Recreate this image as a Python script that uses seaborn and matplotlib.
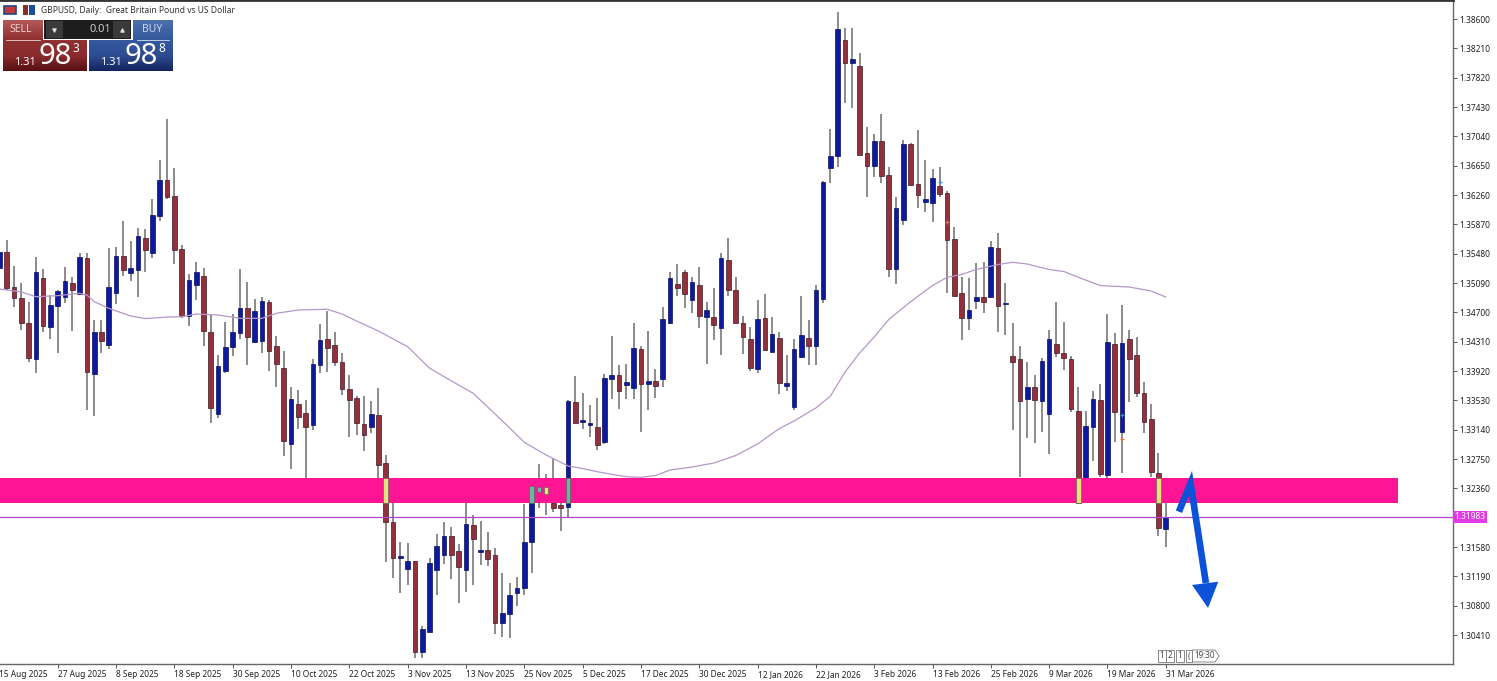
import numpy as np
import pandas as pd
import matplotlib
matplotlib.use("Agg")
import matplotlib.pyplot as plt
from matplotlib.colors import LinearSegmentedColormap
from matplotlib.patches import Polygon, Rectangle
import seaborn as sns

highs = [
    1.35552, 1.35663, 1.35321, 1.35086, 1.34843, 1.35441, 1.35273, 1.34931, 1.34998, 1.35308,
    1.35175, 1.35494, 1.35485, 1.34599, 1.34599, 1.35552, 1.35574, 1.35915, 1.35649, 1.35827,
    1.35804, 1.36203, 1.36722, 1.37271, 1.36615, 1.35592, 1.35211, 1.35366, 1.35286, 1.34665,
    1.34134, 1.34568, 1.34679, 1.35273, 1.35104, 1.34874, 1.34909, 1.34865, 1.34386, 1.34191,
    1.33712, 1.33668, 1.33534, 1.34075, 1.34545, 1.34722, 1.34434, 1.34155, 1.33867, 1.33588,
    1.33588, 1.33526, 1.33698, 1.32803, 1.32161, 1.31651, 1.31629, 1.31398, 1.30530, 1.31429,
    1.31753, 1.31908, 1.31850, 1.31620, 1.32161, 1.32001, 1.31930, 1.31775, 1.31562, 1.31239,
    1.31097, 1.31177, 1.32152, 1.32400, 1.32679, 1.32551, 1.32750, 1.32161, 1.33540, 1.33854,
    1.33623, 1.33468, 1.33566, 1.33880, 1.34390, 1.34000, 1.34013, 1.34554, 1.34257, 1.34457,
    1.33942, 1.34767, 1.35232, 1.35343, 1.35263, 1.35166, 1.35308, 1.34842, 1.35019, 1.35485,
    1.35684, 1.35175, 1.34652, 1.34510, 1.34864, 1.34944, 1.34643, 1.34443, 1.34133, 1.34350,
    1.34922, 1.34598, 1.35064, 1.36446, 1.37133, 1.38698, 1.38476, 1.38476, 1.38153, 1.37160,
    1.37071, 1.37337, 1.36637, 1.36238, 1.36992, 1.36956, 1.37125, 1.36726, 1.36606, 1.36628,
    1.36313, 1.35830, 1.35174, 1.35152, 1.35352, 1.35369, 1.35653, 1.35751, 1.35095, 1.34554,
    1.34253, 1.34035, 1.33867, 1.34089, 1.34465, 1.34838, 1.34572, 1.34120, 1.33703, 1.33393,
    1.33650, 1.33747, 1.34678, 1.34425, 1.34798, 1.34465, 1.34368, 1.33778, 1.33482, 1.32826,
    1.32241,
]
lows = [
    1.35264, 1.34998, 1.34767, 1.34466, 1.34045, 1.33899, 1.34444, 1.34342, 1.34156, 1.34829,
    1.34453, 1.34940, 1.33402, 1.33327, 1.34165, 1.34209, 1.34812, 1.35184, 1.35117, 1.34900,
    1.35242, 1.35428, 1.35920, 1.36203, 1.35339, 1.34621, 1.34524, 1.34865, 1.34253, 1.33234,
    1.33291, 1.33899, 1.34125, 1.34342, 1.34001, 1.34289, 1.34165, 1.33921, 1.33704, 1.32791,
    1.32613, 1.33145, 1.32493, 1.33136, 1.33898, 1.33911, 1.33987, 1.33601, 1.33047, 1.33069,
    1.32861, 1.33091, 1.32493, 1.31385, 1.31163, 1.30964, 1.31075, 1.30100, 1.30100, 1.30454,
    1.30942, 1.31354, 1.31159, 1.30840, 1.30986, 1.31075, 1.31341, 1.31327, 1.30419, 1.30379,
    1.30374, 1.30800, 1.30942, 1.31230, 1.32094, 1.32005, 1.32045, 1.31788, 1.31974, 1.33224,
    1.33154, 1.33047, 1.32870, 1.32950, 1.33544, 1.33411, 1.33544, 1.33544, 1.33109, 1.33402,
    1.33557, 1.33703, 1.34545, 1.34918, 1.34762, 1.34687, 1.34488, 1.34009, 1.34332, 1.34137,
    1.34918, 1.34554, 1.34146, 1.33920, 1.33898, 1.34191, 1.34173, 1.33615, 1.33650, 1.33402,
    1.34089, 1.34000, 1.34000, 1.34820, 1.36424, 1.36628, 1.37488, 1.37417, 1.36788, 1.36229,
    1.36495, 1.36415, 1.35166, 1.35077, 1.35861, 1.36380, 1.36083, 1.36034, 1.35897, 1.36238,
    1.34953, 1.34917, 1.34333, 1.34466, 1.34740, 1.34696, 1.34900, 1.34443, 1.34394, 1.33136,
    1.32515, 1.33025, 1.32967, 1.33109, 1.32817, 1.34102, 1.33934, 1.33375, 1.32152, 1.32170,
    1.32724, 1.32506, 1.32480, 1.32976, 1.32560, 1.33508, 1.33570, 1.33100, 1.32506, 1.31726,
    1.31585,
]
opens = [
    1.35286, 1.35507, 1.35033, 1.34887, 1.34563, 1.34076, 1.35153, 1.34501, 1.34785, 1.34909,
    1.35095, 1.34940, 1.35419, 1.33881, 1.34439, 1.34266, 1.34962, 1.35445, 1.35228, 1.35264,
    1.35685, 1.35494, 1.35986, 1.36460, 1.36252, 1.35538, 1.34652, 1.35060, 1.35184, 1.34439,
    1.33349, 1.33925, 1.34244, 1.34430, 1.34754, 1.34306, 1.34320, 1.34843, 1.34253, 1.33956,
    1.32950, 1.33482, 1.33366, 1.33202, 1.34004, 1.34341, 1.34266, 1.34040, 1.33685, 1.33561,
    1.33215, 1.33180, 1.33339, 1.32692, 1.31917, 1.31438, 1.31283, 1.31398, 1.30188, 1.30454,
    1.31274, 1.31474, 1.31726, 1.31522, 1.31274, 1.31872, 1.31513, 1.31540, 1.31474, 1.30565,
    1.30689, 1.30973, 1.31030, 1.31651, 1.32311, 1.32373, 1.32169, 1.32138, 1.32107, 1.33504,
    1.33242, 1.33207, 1.33180, 1.32972, 1.33810, 1.33867, 1.33739, 1.33690, 1.34208, 1.33752,
    1.33783, 1.33810, 1.34563, 1.35081, 1.35237, 1.34864, 1.35068, 1.34643, 1.34643, 1.34492,
    1.35396, 1.34997, 1.34563, 1.34341, 1.33942, 1.34629, 1.34173, 1.34355, 1.33725, 1.33437,
    1.34111, 1.34355, 1.34257, 1.34878, 1.36619, 1.36779, 1.38321, 1.38020, 1.37975, 1.36823,
    1.36650, 1.36978, 1.36531, 1.35276, 1.35928, 1.36943, 1.36411, 1.36167, 1.36158, 1.36384,
    1.36287, 1.35671, 1.34957, 1.34620, 1.34851, 1.34909, 1.34900, 1.35551, 1.34816, 1.34120,
    1.34075, 1.33548, 1.33703, 1.33521, 1.33349, 1.34279, 1.34160, 1.34075, 1.33393, 1.32502,
    1.33171, 1.33530, 1.32537, 1.34279, 1.33109, 1.34341, 1.34137, 1.33628, 1.33278, 1.32560,
    1.31815,
]
closes = [
    1.35507, 1.35020, 1.34887, 1.34563, 1.34089, 1.35237, 1.34519, 1.34803, 1.34980, 1.35117,
    1.34993, 1.35432, 1.33907, 1.34439, 1.34315, 1.35033, 1.35445, 1.35264, 1.35286, 1.35720,
    1.35525, 1.35999, 1.36460, 1.36230, 1.35530, 1.34652, 1.35126, 1.35237, 1.34457, 1.33424,
    1.33992, 1.34235, 1.34439, 1.34754, 1.34377, 1.34719, 1.34852, 1.34187, 1.34014, 1.32990,
    1.33544, 1.33314, 1.33171, 1.34013, 1.34332, 1.34230, 1.34040, 1.33676, 1.33534, 1.33224,
    1.33069, 1.33348, 1.32670, 1.31917, 1.31438, 1.31460, 1.31398, 1.30188, 1.30494, 1.31363,
    1.31593, 1.31726, 1.31474, 1.31318, 1.31881, 1.31682, 1.31540, 1.31425, 1.30565, 1.30707,
    1.30942, 1.31039, 1.31651, 1.32391, 1.32373, 1.32285, 1.32098, 1.32094, 1.33526, 1.33224,
    1.33273, 1.33233, 1.32936, 1.33823, 1.33867, 1.33654, 1.33770, 1.34222, 1.33752, 1.33792,
    1.33725, 1.34607, 1.35161, 1.35019, 1.34940, 1.35099, 1.34656, 1.34727, 1.34532, 1.35418,
    1.34997, 1.34563, 1.34377, 1.33965, 1.34607, 1.34200, 1.34412, 1.33756, 1.33761, 1.34208,
    1.34399, 1.34257, 1.34997, 1.36429, 1.36783, 1.38467, 1.38020, 1.38064, 1.36788, 1.36650,
    1.36978, 1.36517, 1.35276, 1.36083, 1.36943, 1.36389, 1.36256, 1.36207, 1.36482, 1.36274,
    1.35662, 1.34917, 1.34620, 1.34731, 1.34909, 1.34842, 1.35573, 1.34789, 1.34824, 1.34035,
    1.33521, 1.33712, 1.33535, 1.34053, 1.34341, 1.34160, 1.34098, 1.33419, 1.32161, 1.33193,
    1.33544, 1.32551, 1.34306, 1.33375, 1.34293, 1.34075, 1.33623, 1.33247, 1.32573, 1.31837,
    1.31983,
]

# moving average at these bars
ma_bars = [0, 3, 5, 8, 11, 12, 13, 15, 18, 20, 23, 25, 27, 30, 33, 36, 38, 41, 45, 47, 49, 52,
           56, 59, 62, 65, 68, 70, 72, 75, 78, 80, 82, 84, 86, 88, 90, 92, 95, 98, 101, 104,
           107, 109, 112, 114, 116, 118, 120, 122, 125, 128, 130, 132, 134, 137, 139, 141,
           144, 146, 149, 151, 155, 158, 160]
ma_values = [1.35011, 1.34971, 1.34908, 1.34922, 1.34954, 1.34931, 1.34842, 1.34754, 1.34652,
             1.34618, 1.34638, 1.34642, 1.34678, 1.34665, 1.34621, 1.34621, 1.34688, 1.34732,
             1.34741, 1.34678, 1.34585, 1.34452, 1.34244, 1.33960, 1.33788, 1.33624, 1.33349,
             1.33163, 1.32973, 1.32804, 1.32658, 1.32624, 1.32582, 1.32547, 1.32515, 1.32507,
             1.32531, 1.32604, 1.32644, 1.32697, 1.32797, 1.32950, 1.33156, 1.33256, 1.33429,
             1.33588, 1.33907, 1.34160, 1.34373, 1.34605, 1.34842, 1.35057, 1.35166, 1.35204,
             1.35270, 1.35336, 1.35366, 1.35343, 1.35270, 1.35243, 1.35130, 1.35057, 1.35037,
             1.34984, 1.34904]

date_ticks = ["15 Aug 2025", "27 Aug 2025", "8 Sep 2025", "18 Sep 2025", "30 Sep 2025",
              "10 Oct 2025", "22 Oct 2025", "3 Nov 2025", "13 Nov 2025", "25 Nov 2025",
              "5 Dec 2025", "17 Dec 2025", "30 Dec 2025", "12 Jan 2026", "22 Jan 2026",
              "3 Feb 2026", "13 Feb 2026", "25 Feb 2026", "9 Mar 2026", "19 Mar 2026",
              "31 Mar 2026"]
price_ticks = [1.38600, 1.38210, 1.37820, 1.37430, 1.37040, 1.36650, 1.36260, 1.35870, 1.35480,
               1.35090, 1.34700, 1.34310, 1.33920, 1.33530, 1.33140, 1.32750, 1.32360, 1.31970,
               1.31580, 1.31190, 1.30800, 1.30410]

last_price = 1.31983
zone_top = 1.32502
zone_bottom = 1.32162
zone_end_bar = 191.9
highlight_bars = [53, 73, 74, 75, 78, 148, 159]

marker_up_bars = [129, 154]
marker_up_prices = [1.36433, 1.33336]
marker_down_bars = [130, 154]
marker_down_prices = [1.35906, 1.33017]

arrow_bars = [161.8, 163.4, 165.5]
arrow_prices = [1.32050, 1.32428, 1.31102]
head_bars = [163.6, 167.2, 165.8]
head_prices = [1.31076, 1.31119, 1.30770]

BLUE = "#0d1a9e"
RED = "#93303c"

df = pd.DataFrame({"open": opens, "high": highs, "low": lows, "close": closes})
df["bar"] = df.index
df["up"] = df["close"] >= df["open"]
df["top"] = df[["open", "close"]].max(axis=1)
df["bottom"] = df[["open", "close"]].min(axis=1)

sns.set_theme(style="white")
plt.rcParams["font.family"] = ["Noto Sans", "DejaVu Sans"]

W, H = 1497, 681
fig = plt.figure(figsize=(W / 100, H / 100), dpi=100, facecolor="white")
ax = fig.add_axes([-0.6 / W, (H - 664) / H, 1453.6 / W, 664 / H])

# candles
ax.vlines(df["bar"], df["low"], df["high"], color="#7d7d7d", lw=1.25, zorder=2)
for is_up, part in df.groupby("up"):
    ax.bar(part["bar"], part["top"] - part["bottom"], bottom=part["bottom"], width=0.64,
           color=BLUE if is_up else RED, edgecolor="#0a0e60" if is_up else "#3d1a26",
           linewidth=0.5, zorder=2.5)

# support zone sits over the candles, body parts inside it show in the xor colours
ax.add_patch(Rectangle((0, zone_bottom), zone_end_bar, zone_top - zone_bottom,
                       facecolor="#ff1493", edgecolor="none", zorder=3))
hl = df.loc[highlight_bars]
hl_top = hl["top"].clip(upper=zone_top)
hl_bottom = hl["bottom"].clip(lower=zone_bottom)
ax.bar(hl["bar"], hl_top - hl_bottom, bottom=hl_bottom, width=0.64,
       color=["#62bb9c" if u else "#e6e27c" for u in hl["up"]],
       edgecolor="#4d5a50", linewidth=0.4, zorder=3.5)

sns.lineplot(x=ma_bars, y=ma_values, color="#b597c8", lw=0.9, ax=ax, zorder=2.8)
ax.axhline(last_price, color="#b544cc", lw=0.9, zorder=3)

ax.scatter(marker_up_bars, marker_up_prices, marker="+", s=12, color="#3a8fc0", lw=0.8, zorder=4)
ax.scatter(marker_down_bars, marker_down_prices, marker="+", s=12, color="#e8744a", lw=0.8, zorder=4)

# hand drawn arrow
ax.plot(arrow_bars, arrow_prices, color="#0b52d8", lw=4.8, solid_joinstyle="miter",
        solid_capstyle="butt", zorder=5)
ax.add_patch(Polygon(list(zip(head_bars, head_prices)), closed=True, facecolor="#0b52d8",
                     edgecolor="none", zorder=5))

ax.set_xlim(0, 199.4)
ax.set_ylim(1.38853 - 0.00013295 * 664, 1.38853)
ax.set_xticks(range(0, 161, 8))
ax.set_xticklabels(date_ticks, ha="left", fontsize=6.0, color="#222222")
ax.set_yticks(price_ticks)
ax.set_yticklabels(["" if p == 1.31970 else f"{p:.5f}" for p in price_ticks],
                   fontsize=6.0, color="#222222")
ax.yaxis.tick_right()
ax.xaxis.tick_bottom()
ax.tick_params(axis="both", length=3, width=0.7, color="#555555", pad=1.5)
ax.set_xlabel("")
ax.set_ylabel("")
ax.spines["left"].set_visible(False)
for side in ["right", "bottom"]:
    ax.spines[side].set_color("#666666")
    ax.spines[side].set_linewidth(1.0)
ax.spines["top"].set_color("#333333")
ax.spines["top"].set_linewidth(2.0)

ax.text(1.0012, last_price, f"{last_price:.5f}", transform=ax.get_yaxis_transform(),
        ha="left", va="center", fontsize=6.0, color="white", zorder=6, clip_on=False,
        bbox=dict(facecolor="#e23be6", edgecolor="none", pad=1.2))

# overlay in pixels for the terminal widgets
ov = fig.add_axes([0, 0, 1, 1], facecolor="none")
ov.set_axis_off()

red_cmap = LinearSegmentedColormap.from_list("sell", ["#b55a58", "#8e2f30", "#8a2a2c", "#561012"])
blue_cmap = LinearSegmentedColormap.from_list("buy", ["#4d6fae", "#34589c", "#2c4c90", "#14245e"])
grad = np.linspace(0, 1, 64).reshape(-1, 1)


def panel(x0, x1, y0, y1, cmap, lo=0.0, hi=1.0):
    ov.imshow(lo + (hi - lo) * grad, extent=(x0, x1, y1, y0), cmap=cmap, vmin=0, vmax=1,
              aspect="auto", zorder=2)


panel(3, 43, 20, 41, red_cmap, 0.0, 0.35)
panel(3, 87, 40, 71, red_cmap, 0.3, 1.0)
panel(133, 173, 20, 41, blue_cmap, 0.0, 0.35)
panel(89, 173, 40, 71, blue_cmap, 0.3, 1.0)
ov.add_patch(Rectangle((44, 20), 87, 19, facecolor="#1d1d1d", edgecolor="none", zorder=2))
for bx in [46, 113]:
    ov.add_patch(Rectangle((bx, 21), 17, 17, facecolor="#3a3a3a", edgecolor="none", zorder=3))
ov.scatter([54], [29.5], marker="v", s=5, color="#dddddd", zorder=4)
ov.scatter([122], [29.5], marker="^", s=5, color="#dddddd", zorder=4)
ov.plot([6, 40], [40, 40], color="#e0c0c0", lw=0.7, zorder=4)
ov.plot([137, 169], [40, 40], color="#c0d0e8", lw=0.7, zorder=4)

ov.text(21, 30, "SELL", fontsize=7.5, color="#eccaca", ha="center", va="center", zorder=5)
ov.text(152, 30, "BUY", fontsize=7.5, color="#c8d4ee", ha="center", va="center", zorder=5)
ov.text(100, 29.5, "0.01", fontsize=8, color="#cccccc", ha="center", va="center", zorder=5)
for xb, last_digit in [(0, "3"), (86, "8")]:
    ov.text(25 + xb, 62.5, "1.31", fontsize=8, fontweight="bold", color="white",
            ha="center", va="center", zorder=5)
    ov.text(55 + xb, 56.5, "98", fontsize=21, color="white", ha="center", va="center", zorder=5)
    ov.text(76 + xb, 49, last_digit, fontsize=8.5, color="white", ha="center", va="center", zorder=5)

ov.add_patch(Rectangle((4, 6), 12, 8, facecolor="#c23a3a", edgecolor="#23448a", lw=1.2, zorder=3))
ov.add_patch(Rectangle((23, 5), 5, 10, facecolor="#8c2b2b", edgecolor="none", zorder=3))
ov.add_patch(Rectangle((29, 5), 6, 10, facecolor="#1c4c9c", edgecolor="none", zorder=3))
ov.text(41, 10.5, "GBPUSD, Daily:  Great Britain Pound vs US Dollar", fontsize=6.1,
        color="#333333", ha="left", va="center", zorder=5)

# period separators at the bottom right
for lx, label in [(1162, "1"), (1170, "2"), (1180, "1"), (1189, "(")]:
    ov.text(lx, 656, label, fontsize=5.8, color="#444444", ha="center", va="center", zorder=5,
            bbox=dict(facecolor="white", edgecolor="#777777", lw=0.6, pad=1.0))
ov.add_patch(Polygon([(1192, 650), (1215, 650), (1219, 656), (1215, 662), (1192, 662)], closed=True,
                     facecolor="white", edgecolor="#777777", lw=0.6, zorder=4))
ov.text(1205, 656, "19:30", fontsize=5.8, color="#444444", ha="center", va="center", zorder=5)

ov.set_xlim(0, W)
ov.set_ylim(H, 0)

fig.savefig("out.png", dpi=100)
